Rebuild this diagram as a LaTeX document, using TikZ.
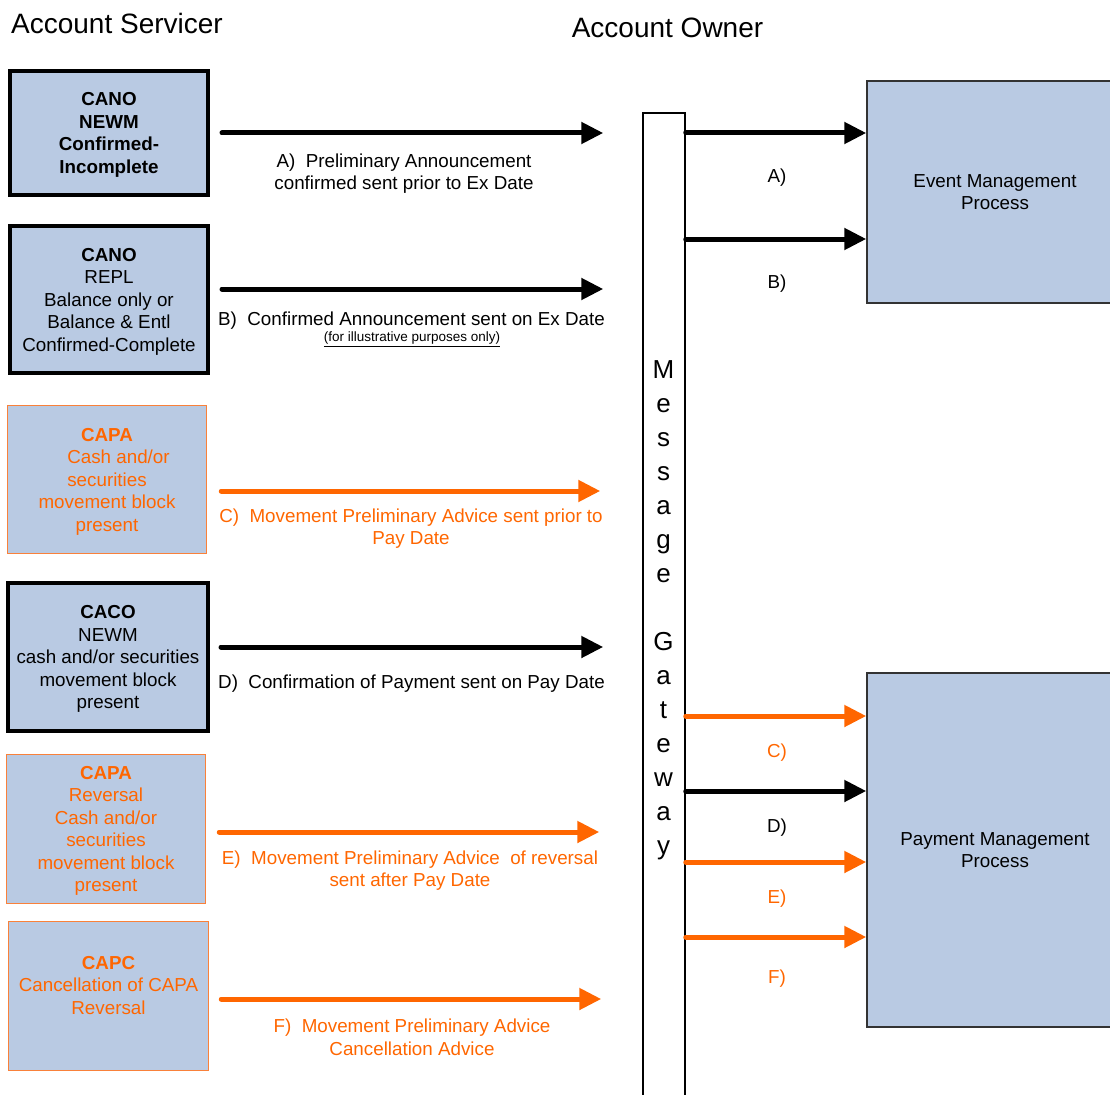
\documentclass[tikz,border=0pt]{standalone}
\usepackage{fontspec}
\setmainfont{Liberation Sans}
\usetikzlibrary{arrows.meta}
\definecolor{boxfill}{HTML}{B9CAE3}
\definecolor{orng}{HTML}{FF6600}
\definecolor{orngline}{HTML}{F9813A}
\definecolor{procline}{HTML}{333333}
\begin{document}
\begin{tikzpicture}[x=1pt,y=-1pt,
  bodyfont/.style={font=\fontsize{18.8}{22.5}\selectfont},
  txt/.style={bodyfont, align=center, inner sep=0pt},
  bluebox/.style={draw, fill=boxfill, inner sep=0pt, align=center, bodyfont},
  kbox/.style={bluebox, line width=4pt, draw=black},
  obox/.style={bluebox, line width=1.5pt, draw=orngline},
  otxt/.style={txt, text=orng},
  procbox/.style={bluebox, line width=1.5pt, draw=procline},
  arr/.style={line width=5pt, line cap=round, -{Triangle[length=22pt,width=21pt]}},
  karr/.style={arr, draw=black},
  oarr/.style={arr, draw=orng},
  title/.style={font=\fontsize{28}{32}\selectfont, inner sep=0pt},
  gwletter/.style={font=\fontsize{26}{34}\selectfont, inner sep=0pt, anchor=base}
]
\useasboundingbox (0,0) rectangle (1110,1094);

% titles
\node[title] (t1) at (117,23) {Account Servicer};
\node[title] (t2) at (667.5,28) {Account Owner};

% left boxes
\node[kbox, minimum width=198, minimum height=124] (b1) at (109,133) {};
\node[kbox, minimum width=198, minimum height=147] (b2) at (109,299.5) {};
\node[obox, minimum width=199, minimum height=148] (b3) at (107,479.5) {};
\node[kbox, minimum width=200, minimum height=148] (b4) at (108,657) {};
\node[obox, minimum width=199, minimum height=149] (b5) at (106,829) {};
\node[obox, minimum width=200, minimum height=149] (b6) at (108.5,996) {};

% box texts
\node[txt] (b1t) at (109,135)
  {\textbf{CANO}\\\textbf{NEWM}\\\textbf{Confirmed-}\\\textbf{Incomplete}};
\node[txt] (b2t) at (109,301.5)
  {\textbf{CANO}\\REPL\\Balance only or\\Balance \& Entl\\Confirmed-Complete};
\node[otxt] (b3t) at (107,481.5)
  {\textbf{CAPA}\\\hspace*{23pt}Cash and/or\\securities\\movement block\\present};
\node[txt] (b4t) at (108,659)
  {\textbf{CACO}\\NEWM\\cash and/or securities\\movement block\\present};
\node[otxt] (b5t) at (106,831)
  {\textbf{CAPA}\\Reversal\\Cash and/or\\securities\\movement block\\present};
\node[otxt] (b6t) at (108.5,985.5)
  {\textbf{CAPC}\\Cancellation of CAPA\\Reversal};

% message gateway
\node[draw, line width=1.5pt, fill=white, minimum width=42, minimum height=1000, inner sep=0pt] (gw) at (664,613) {};
\foreach \l/\y [count=\i] in {M/378.5, e/412.5, s/446.5, s/480.5, a/514.5, g/548.5, e/582.5,
  G/650.5, a/684.5, t/718.5, e/752.5, w/786.5, a/820.5, y/854.5}
  \node[gwletter] (g\i) at (663.5,\y) {\l};

% process boxes
\node[procbox, minimum width=256, minimum height=222] (ev) at (995,192) {Event Management\\Process};
\node[procbox, minimum width=256, minimum height=354] (pm) at (995,850) {Payment Management\\Process};

% left arrows
\draw[karr, shorten <=12pt, shorten >=39pt] (b1.east |- 0,133) -- (gw.west |- 0,133);
\draw[karr, shorten <=12pt, shorten >=39pt] (b2.east |- 0,289) -- (gw.west |- 0,289);
\draw[oarr, shorten <=14pt, shorten >=42pt] (b3.east |- 0,491) -- (gw.west |- 0,491);
\draw[karr, shorten <=11pt, shorten >=39pt] (b4.east |- 0,647) -- (gw.west |- 0,647);
\draw[oarr, shorten <=13pt, shorten >=43pt] (b5.east |- 0,832) -- (gw.west |- 0,832);
\draw[oarr, shorten <=12pt, shorten >=41pt] (b6.east |- 0,999) -- (gw.west |- 0,999);

% left labels
\node[txt] (la) at (404,173.5) {A)\ \ Preliminary Announcement\\confirmed sent prior to Ex Date};
\node[txt] (lb) at (411.5,320.5) {B)\ \ Confirmed Announcement sent on Ex Date};
\node[inner sep=0pt, font=\fontsize{13.5}{15}\selectfont] (lb2) at (412,339.5) {\underline{(for illustrative purposes only)}};
\node[otxt] (lc) at (411,528.5) {C)\ \ Movement Preliminary Advice sent prior to\\Pay Date};
\node[txt] (ld) at (411.5,683.5) {D)\ \ Confirmation of Payment sent on Pay Date};
\node[otxt] (le) at (410,870.5) {E)\ \ Movement Preliminary Advice\ \ of reversal\\sent after Pay Date};
\node[otxt] (lf) at (412,1037.5) {F)\ \ Movement Preliminary Advice\\Cancellation Advice};

% right arrows
\draw[karr] (gw.east |- 0,133) -- (ev.west |- 0,133);
\draw[karr] (gw.east |- 0,239) -- (ev.west |- 0,239);
\draw[oarr] (gw.east |- 0,716) -- (pm.west |- 0,716);
\draw[karr] (gw.east |- 0,791) -- (pm.west |- 0,791);
\draw[oarr] (gw.east |- 0,862) -- (pm.west |- 0,862);
\draw[oarr] (gw.east |- 0,937) -- (pm.west |- 0,937);

% right labels
\node[txt] (ra) at (777,178) {A)};
\node[txt] (rb) at (777,284) {B)};
\node[otxt] (rc) at (777,753) {C)};
\node[txt] (rd) at (777,828) {D)};
\node[otxt] (re) at (777,899) {E)};
\node[otxt] (rf) at (777,979) {F)};
\end{tikzpicture}
\end{document}
